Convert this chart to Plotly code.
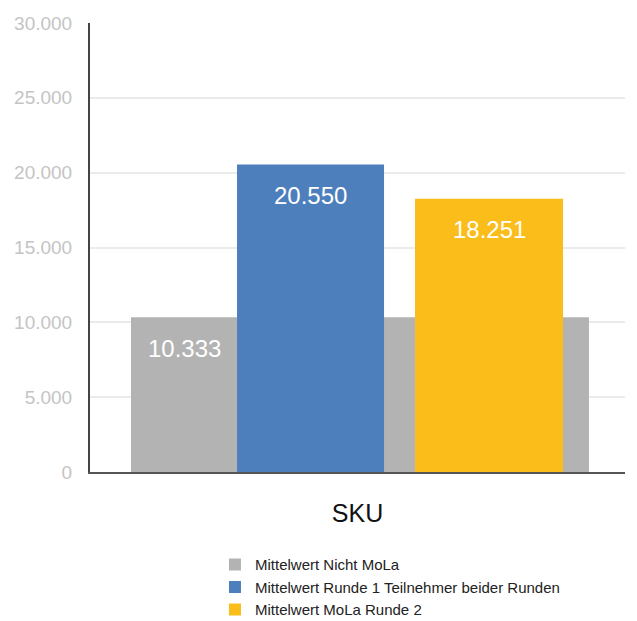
import plotly.graph_objects as go

categories = ["SKU"]
series_names = ["Mittelwert Nicht MoLa",
                "Mittelwert Runde 1 Teilnehmer beider Runden",
                "Mittelwert MoLa Runde 2"]
series_values = [10333, 20550, 18251]
colors = ["#b3b3b3", "#4d7fbc", "#fbbd19"]
y_ticks = [0, 5000, 10000, 15000, 20000, 25000, 30000]

# bar geometry (category units, within [-0.5, 0.5])
offsets = [-0.4234, -0.2252, 0.1075]
widths = [0.856, 0.2748, 0.2766]

fig = go.Figure()
for name, val, col, off, w in zip(series_names, series_values, colors, offsets, widths):
    fig.add_trace(go.Bar(x=categories, y=[val], name=name, marker_color=col,
                         marker_line_width=0, offset=off, width=w))

# value labels
label_x = [offsets[0] + (offsets[1] - offsets[0]) / 2,
           offsets[1] + widths[1] / 2,
           offsets[2] + widths[2] / 2]
for lx, val in zip(label_x, series_values):
    fig.add_annotation(x=lx, y=val, xref="x", yref="y",
                       text=f"{val:,}".replace(",", "."), showarrow=False,
                       yshift=-31, font=dict(size=24, color="white"))

fig.update_layout(
    width=629, height=613,
    barmode="overlay",
    separators=",.",
    plot_bgcolor="white", paper_bgcolor="white",
    font=dict(family="Liberation Sans, Arial, sans-serif"),
    margin=dict(l=82, r=12, t=15, b=149, autoexpand=False),
    showlegend=True,
    legend=dict(x=0.2336, y=-0.17,
                xanchor="left", yanchor="top", font=dict(size=15, color="#222"),
                tracegroupgap=0, itemwidth=30, traceorder="normal"),
    xaxis=dict(type="category", range=[-0.5, 0.5], showline=True, linecolor="#555",
               linewidth=2, ticks="outside", ticklen=18, tickcolor="rgba(0,0,0,0)",
               tickfont=dict(size=25, color="#111"), showgrid=False, automargin=False),
    yaxis=dict(range=[0, 30000], tickvals=y_ticks, tickformat=",d", showline=True,
               linecolor="#444", linewidth=2, gridcolor="#ebebeb", gridwidth=1.5,
               ticks="outside", ticklen=12, tickcolor="rgba(0,0,0,0)",
               tickfont=dict(size=19, color="#c4c4c4"), zeroline=False, automargin=False),
)
fig.write_html("out.html")
